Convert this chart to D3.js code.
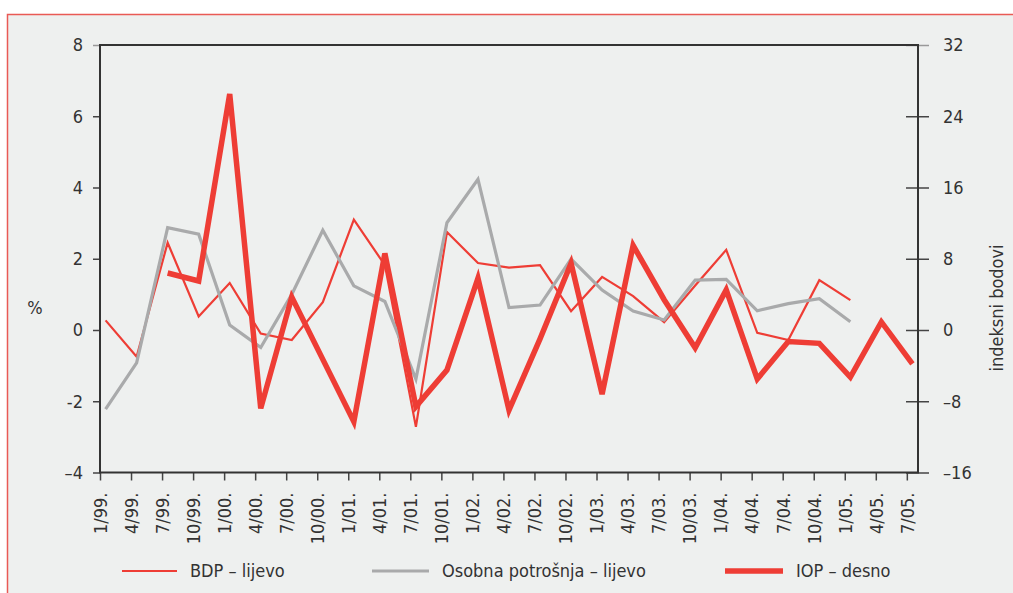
<!DOCTYPE html>
<html>
<head>
<meta charset="utf-8">
<script src="https://cdn.jsdelivr.net/npm/d3@7"></script>
<style>
  body { margin: 0; background: #fff; overflow: hidden; }
  svg { display: block; }
  text { font-family: "DejaVu Sans Condensed", "Liberation Sans Narrow", sans-serif; fill: #333; }
</style>
</head>
<body>
<div id="chart"></div>
<script>
const categories = ["1/99.", "4/99.", "7/99.", "10/99.", "1/00.", "4/00.", "7/00.", "10/00.",
  "1/01.", "4/01.", "7/01.", "10/01.", "1/02.", "4/02.", "7/02.", "10/02.",
  "1/03.", "4/03.", "7/03.", "10/03.", "1/04.", "4/04.", "7/04.", "10/04.",
  "1/05.", "4/05.", "7/05."];

// BDP, left axis (%)
const bdp = [0.27, -0.75, 2.45, 0.38, 1.32, -0.1, -0.28, 0.78, 3.1, 1.82, -2.72, 2.75,
  1.88, 1.75, 1.82, 0.53, 1.49, 0.95, 0.22, 1.25, 2.25, -0.08, -0.28, 1.4, 0.84, null, null];

// Osobna potrošnja, left axis (%)
const potrosnja = [-2.22, -0.92, 2.87, 2.69, 0.14, -0.49, 1.0, 2.8, 1.24, 0.8, -1.38, 3.01,
  4.23, 0.63, 0.7, 1.99, 1.12, 0.53, 0.28, 1.4, 1.42, 0.54, 0.74, 0.88, 0.23, null, null];

// IOP, right axis (indeksni bodovi)
const iop = [null, null, 6.4, 5.5, 26.5, -8.8, 3.7, -3.3, -10.3, 8.6, -8.6, -4.5,
  5.8, -9.0, -1.0, 7.5, -7.2, 9.5, 3.4, -2.0, 4.5, -5.5, -1.3, -1.5, -5.3, 0.9, -3.8];

const leftTicks = [-4, -2, 0, 2, 4, 6, 8];
const leftTickLabels = ["–4", "-2", "0", "2", "4", "6", "8"];
const rightTicks = [-16, -8, 0, 8, 16, 24, 32];
const rightTickLabels = ["–16", "–8", "0", "8", "16", "24", "32"];

const width = 1013, height = 593;
const red = "#ee3d35", grey = "#a9aaab";
const fontSize = 18;

const svg = d3.select("#chart").append("svg")
  .attr("width", width)
  .attr("height", height);

// panel with red border
svg.append("rect")
  .attr("x", 7.5).attr("y", 14.5)
  .attr("width", width).attr("height", height)
  .attr("fill", "#eef0ef")
  .attr("stroke", "#e95a55")
  .attr("stroke-width", 1.5);

const plotLeft = 100, plotRight = 918, plotTop = 45, plotBottom = 472.5;
const x = d3.scaleLinear().domain([0, 26.36]).range([plotLeft, plotRight]);
const shift = 0.18; // points sit a little right of their tick
const yL = d3.scaleLinear().domain([-4, 8]).range([plotBottom, plotTop]);
const yR = d3.scaleLinear().domain([-16, 32]).range([plotBottom, plotTop]);

// bottom axis
const xAxis = svg.append("g")
  .attr("transform", `translate(0,${plotBottom})`)
  .call(d3.axisBottom(x).tickValues(d3.range(categories.length))
    .tickFormat(i => categories[i]).tickSize(8));
xAxis.select(".domain").remove();
xAxis.selectAll("line").attr("stroke", "#444").attr("stroke-width", 1.5);
xAxis.selectAll("text")
  .attr("transform", "rotate(-90)")
  .attr("text-anchor", "end")
  .attr("x", -20).attr("y", 0).attr("dy", "0.35em")
  .attr("font-size", fontSize).attr("fill", "#333");

// left axis
const yAxisL = svg.append("g")
  .attr("transform", `translate(${plotLeft},0)`)
  .call(d3.axisLeft(yL).tickValues(leftTicks)
    .tickFormat((d, i) => leftTickLabels[i]).tickSize(7).tickPadding(10));
yAxisL.select(".domain").remove();
yAxisL.selectAll("line").attr("stroke", d => d === 8 ? "#999" : "#444").attr("stroke-width", 1.5);
yAxisL.selectAll("text").attr("font-size", fontSize).attr("fill", "#333");

// right axis, ticks cross the line
const yAxisR = svg.append("g")
  .attr("transform", `translate(${plotRight},0)`)
  .call(d3.axisRight(yR).tickValues(rightTicks)
    .tickFormat((d, i) => rightTickLabels[i]).tickSize(11).tickPadding(14));
yAxisR.select(".domain").remove();
yAxisR.selectAll("line").attr("x1", -12)
  .attr("stroke", d => d === 32 ? "#999" : "#444").attr("stroke-width", 1.5);
yAxisR.selectAll("text").attr("font-size", fontSize).attr("fill", "#333");

// frame
svg.append("rect")
  .attr("x", plotLeft).attr("y", plotTop)
  .attr("width", plotRight - plotLeft).attr("height", plotBottom - plotTop)
  .attr("fill", "none")
  .attr("stroke", "#333")
  .attr("stroke-width", 2);

// axis titles
svg.append("text")
  .attr("x", 35).attr("y", 308)
  .attr("text-anchor", "middle").attr("dy", "0.35em")
  .attr("font-size", fontSize)
  .text("%");
svg.append("text")
  .attr("transform", "translate(997,308) rotate(-90)")
  .attr("text-anchor", "middle").attr("dy", "0.35em")
  .attr("font-size", fontSize)
  .text("indeksni bodovi");

const series = [
  { name: "BDP – lijevo", values: bdp, y: yL, color: red, width: 2.2, lx: 122, lw: 55 },
  { name: "Osobna potrošnja – lijevo", values: potrosnja, y: yL, color: grey, width: 3.2, lx: 372, lw: 57 },
  { name: "IOP – desno", values: iop, y: yR, color: red, width: 5.5, lx: 725, lw: 58 }
];

series.forEach(s => {
  const line = d3.line()
    .defined(d => d != null)
    .x((d, i) => x(i + shift))
    .y(d => s.y(d));
  svg.append("path")
    .datum(s.values)
    .attr("fill", "none")
    .attr("stroke", s.color)
    .attr("stroke-width", s.width)
    .attr("stroke-linejoin", "miter")
    .attr("d", line);
});

// legend
const legend = svg.append("g");
series.forEach(s => {
  legend.append("line")
    .attr("x1", s.lx).attr("x2", s.lx + s.lw)
    .attr("y1", 571).attr("y2", 571)
    .attr("stroke", s.color)
    .attr("stroke-width", s.width);
  legend.append("text")
    .attr("x", s.lx + s.lw + 13).attr("y", 571)
    .attr("dy", "0.35em")
    .attr("font-size", fontSize)
    .text(s.name);
});
</script>
</body>
</html>
